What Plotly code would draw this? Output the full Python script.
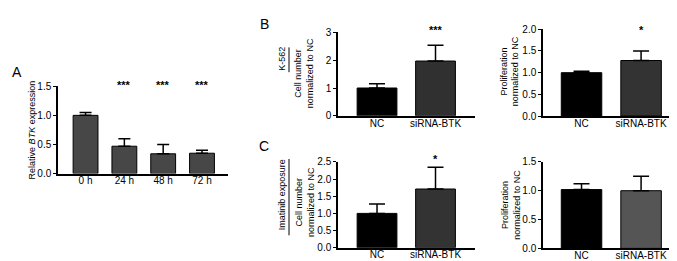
import plotly.graph_objects as go

# ---- data ----
time_labels = ["0 h", "24 h", "48 h", "72 h"]
rel_btk = [1.0, 0.47, 0.34, 0.35]
rel_btk_err = [0.05, 0.13, 0.16, 0.05]
rel_btk_sig = ["", "***", "***", "***"]

groups = ["NC", "siRNA-BTK"]
k562_cell = [1.0, 1.97]
k562_cell_err = [0.15, 0.57]
k562_cell_sig = ["", "***"]

k562_prolif = [1.0, 1.28]
k562_prolif_err = [0.03, 0.22]
k562_prolif_sig = ["", "*"]

imat_cell = [1.0, 1.71]
imat_cell_err = [0.27, 0.63]
imat_cell_sig = ["", "*"]

imat_prolif = [1.02, 1.0]
imat_prolif_err = [0.10, 0.25]
imat_prolif_sig = ["", ""]

W, H = 677, 261
FONT = "Liberation Sans, Arial, sans-serif"

def px_x(x):
    return x / W

def px_y(y):
    return 1 - y / H

fig = go.Figure()

panels = [
    dict(ax="", cats=time_labels, vals=rel_btk, err=rel_btk_err,
         colors=["#474747"] * 4, xd=(50, 220), yd=(167.3, 75.7), yr=1.5, dt=0.5, fmt=".1f",
         xr=(-0.71, 3.67), bw=0.64, sig=rel_btk_sig, spx=71.7, cap=6),
    dict(ax="2", cats=groups, vals=k562_cell, err=k562_cell_err,
         colors=["#000000", "#303030"], xd=(330, 467), yd=(106.7, 19.3), yr=3, dt=1, fmt="d",
         xr=(-0.667, 1.675), bw=0.68, sig=k562_cell_sig, spx=13.3, cap=8),
    dict(ax="3", cats=groups, vals=k562_prolif, err=k562_prolif_err,
         colors=["#000000", "#333333"], xd=(535, 670), yd=(107, 16), yr=2.0, dt=0.5, fmt=".1f",
         xr=(-0.647, 1.62), bw=0.68, sig=k562_prolif_sig, spx=13.3, cap=8),
    dict(ax="4", cats=groups, vals=imat_cell, err=imat_cell_err,
         colors=["#000000", "#333333"], xd=(330, 467), yd=(245, 155), yr=2.5, dt=0.5, fmt=".1f",
         xr=(-0.667, 1.675), bw=0.68, sig=imat_cell_sig, spx=149.3, cap=8),
    dict(ax="5", cats=groups, vals=imat_prolif, err=imat_prolif_err,
         colors=["#000000", "#555555"], xd=(535, 670), yd=(245.7, 155), yr=1.5, dt=0.5, fmt=".1f",
         xr=(-0.647, 1.62), bw=0.68, sig=imat_prolif_sig, spx=150, cap=8),
]

annotations = []
for p in panels:
    xa = "x" + p["ax"]
    ya = "y" + p["ax"]
    fig.add_trace(go.Bar(
        x=p["cats"], y=p["vals"], xaxis=xa, yaxis=ya,
        width=p["bw"],
        marker=dict(color=p["colors"], line=dict(color="black", width=1)),
        error_y=dict(type="data", array=p["err"], arrayminus=[0] * len(p["err"]),
                     symmetric=False, color="black", thickness=1.5, width=p["cap"]),
        showlegend=False,
    ))
    key = p["ax"]
    fig.layout["xaxis" + key] = dict(
        domain=[px_x(p["xd"][0]), px_x(p["xd"][1])],
        anchor=ya, type="category", range=list(p["xr"]),
        showline=True, linecolor="black", linewidth=1.5,
        ticks="", showgrid=False, zeroline=False,
        ticklabelstandoff=-3,
        tickfont=dict(family=FONT, size=10, color="black"),
    )
    fig.layout["yaxis" + key] = dict(
        domain=[px_y(p["yd"][0]), px_y(p["yd"][1])],
        anchor=xa, range=[0, p["yr"]], dtick=p["dt"], tick0=0,
        tickformat=p["fmt"],
        showline=True, linecolor="black", linewidth=1.5,
        ticks="outside", ticklen=3, tickwidth=1, tickcolor="black",
        showgrid=False, zeroline=False,
        tickfont=dict(family=FONT, size=10, color="black"),
    )
    frac = (p["yd"][0] - (p["spx"] + 3)) / (p["yd"][0] - p["yd"][1])
    for c, s in zip(p["cats"], p["sig"]):
        if s:
            annotations.append(dict(
                x=c, y=frac, xref=xa, yref=ya + " domain", text="<b>" + s + "</b>",
                showarrow=False,
                font=dict(family=FONT, size=11, color="black"),
                xanchor="center", yanchor="middle",
            ))

def vtitle(x, y, text, size=9):
    annotations.append(dict(
        x=px_x(x), y=px_y(y), xref="paper", yref="paper", text=text,
        showarrow=False, textangle=-90, xanchor="center", yanchor="middle",
        font=dict(family=FONT, size=size, color="black"),
    ))

vtitle(24, 122, "Relative <i>BTK</i> expression")
vtitle(296, 62, "Cell number<br>normalized to NC")
vtitle(502, 60, "Proliferation<br>normalized to NC")
vtitle(297, 197, "Cell number<br>normalized to NC")
vtitle(503, 200, "Proliferation<br>normalized to NC")
vtitle(274, 47, "K-562")
vtitle(274, 190, "Imatinib exposure")

def letter(x, y, t):
    annotations.append(dict(
        x=px_x(x), y=px_y(y), xref="paper", yref="paper", text=t,
        showarrow=False, xanchor="center", yanchor="middle",
        font=dict(family=FONT, size=14, color="black"),
    ))

letter(9, 61, "A")
letter(256, 11, "B")
letter(256, 138, "C")

shapes = [
    dict(type="line", xref="paper", yref="paper",
         x0=px_x(281), x1=px_x(281), y0=px_y(35), y1=px_y(61),
         line=dict(color="black", width=1)),
    dict(type="line", xref="paper", yref="paper",
         x0=px_x(281), x1=px_x(281), y0=px_y(152), y1=px_y(232),
         line=dict(color="black", width=1)),
]

fig.update_layout(
    width=W, height=H,
    margin=dict(l=0, r=0, t=0, b=0),
    paper_bgcolor="white", plot_bgcolor="white",
    annotations=annotations, shapes=shapes,
    font=dict(family=FONT, size=9, color="black"),
    bargap=0.3,
)

fig.write_html("out.html")
